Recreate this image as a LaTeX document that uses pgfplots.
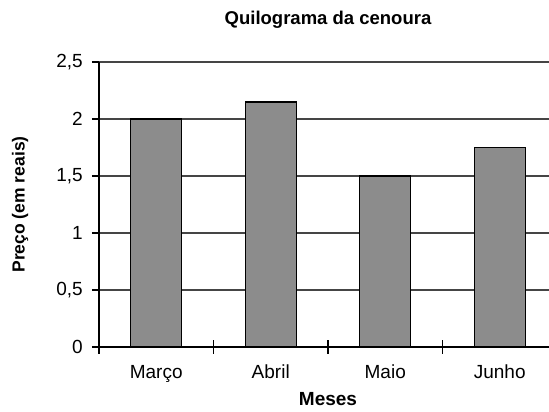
\documentclass[border=0pt]{standalone}
\usepackage{pgfplots}
\pgfplotsset{compat=1.18}
\usepackage{fontspec}
\setmainfont{Liberation Sans}
\definecolor{barfill}{HTML}{8C8C8C}
\definecolor{gridc}{HTML}{454545}
\begin{document}
\fontsize{17}{20}\selectfont
\begin{tikzpicture}
\path[use as bounding box] (-99pt,-65pt) rectangle (450pt,347pt);
\begin{axis}[
  at={(0pt,0pt)}, anchor=south west,
  scale only axis, width=458pt, height=285pt,
  xmin=-0.5, xmax=3.5, ymin=0, ymax=2.5,
  axis x line*=bottom, axis y line*=left,
  axis line style={-, black, line width=1.2pt},
  ybar, bar width=51pt,
  xtick={0,1,2,3},
  xticklabels={Março,Abril,Maio,Junho},
  minor xtick={-0.5,0.5,1.5,2.5},
  x tick style={draw=none},
  minor x tick style={draw=black, line width=1.1pt},
  minor tick length=14pt,
  xtick align=center,
  ytick={0,0.5,1,1.5,2,2.5},
  yticklabels={0,{0,5},1,{1,5},2,{2,5}},
  ytick align=outside,
  y tick style={black, line width=1.1pt},
  major tick length=7pt,
  ymajorgrids,
  grid style={gridc, line width=1.6pt},
  xticklabel style={font=\fontsize{19}{22}\selectfont, anchor=base, inner sep=0pt, yshift=-28pt},
  yticklabel style={font=\fontsize{19}{22}\selectfont, anchor=east, inner sep=0pt, xshift=-9pt},
  title={Quilograma da cenoura},
  title style={font=\bfseries\fontsize{18.5}{22}\selectfont, at={(axis description cs:0.5,1)}, anchor=base, yshift=31pt, inner sep=0pt},
  xlabel={Meses},
  xlabel style={font=\bfseries\fontsize{19}{22}\selectfont, at={(axis description cs:0.5,0)}, anchor=center, yshift=-52pt},
  ylabel={Preço (em reais)},
  ylabel style={font=\bfseries\fontsize{17.5}{20}\selectfont, at={(axis description cs:-0.1725,0.5)}, anchor=center},
]
\addplot[fill=barfill, draw=black, line width=1.4pt] coordinates {(0,2) (1,2.15) (2,1.5) (3,1.75)};
\end{axis}
\end{tikzpicture}
\end{document}
